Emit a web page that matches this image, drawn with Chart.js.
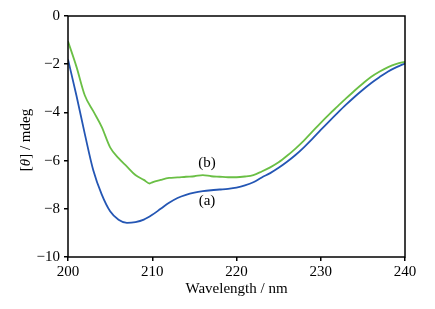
<!DOCTYPE html>
<html><head><meta charset="utf-8">
<script src="https://cdn.jsdelivr.net/npm/chart.js@4/dist/chart.umd.min.js"></script>
<style>html,body{margin:0;padding:0;background:#fff}#w{width:435px;height:309px}</style>
</head><body><div id="w"><canvas id="c" width="435" height="309"></canvas></div>
<script>
const wavelengthA = [200,201,202,203,204,205,206,207,208,209,210,211,212,213,214,215,216,217,218,219,220,221,222,223,224,225,226,227,228,229,230,231,232,233,234,235,236,237,238,239,240];
const seriesA = [-1.8,-3.3,-4.9,-6.4,-7.4,-8.1,-8.45,-8.58,-8.55,-8.45,-8.25,-8.0,-7.75,-7.55,-7.42,-7.33,-7.27,-7.23,-7.2,-7.17,-7.12,-7.03,-6.9,-6.7,-6.52,-6.3,-6.05,-5.77,-5.45,-5.1,-4.73,-4.37,-4.02,-3.68,-3.36,-3.06,-2.78,-2.53,-2.3,-2.12,-1.97];
const wavelengthB = [200,201,202,203,204,205,206,207,208,209,209.7,210,211,212,213,214,215,216,217,218,219,220,221,222,223,224,225,226,227,228,229,230,231,232,233,234,235,236,237,238,239,240];
const seriesB = [-1.05,-2.1,-3.3,-3.95,-4.6,-5.45,-5.9,-6.25,-6.6,-6.8,-6.95,-6.9,-6.8,-6.72,-6.7,-6.67,-6.65,-6.6,-6.65,-6.67,-6.69,-6.69,-6.66,-6.6,-6.45,-6.28,-6.07,-5.8,-5.5,-5.17,-4.8,-4.43,-4.08,-3.75,-3.42,-3.1,-2.8,-2.52,-2.3,-2.12,-1.99,-1.9];
const xTicks = [200,210,220,230,240];
const yTicks = [0,-2,-4,-6,-8,-10];
const curveLabels = [{text:'(a)', x:216.5, y:-7.68},{text:'(b)', x:216.5, y:-6.1}];

const FONT = '"Liberation Serif", "Times New Roman", serif';

const framePlugin = {
  id:'frame',
  afterDatasetsDraw(chart){
    const {ctx, chartArea:a, scales} = chart;
    ctx.save();
    ctx.strokeStyle = '#000'; ctx.lineWidth = 1.5;
    ctx.strokeRect(a.left, a.top, a.right-a.left, a.bottom-a.top);
    ctx.fillStyle = '#000';
    ctx.font = '15px ' + FONT;
    ctx.textAlign = 'center'; ctx.textBaseline = 'middle';
    curveLabels.forEach(l => {
      ctx.fillText(l.text, scales.x.getPixelForValue(l.x), scales.y.getPixelForValue(l.y));
    });
    // y axis title with italic theta
    ctx.translate(26, 140);
    ctx.rotate(-Math.PI/2);
    const parts = [['[', '15px '+FONT], ['θ', 'italic 15px '+FONT], ['] / mdeg', '15px '+FONT]];
    let total = 0;
    parts.forEach(p => { ctx.font = p[1]; total += ctx.measureText(p[0]).width; });
    let xx = -total/2;
    ctx.textAlign = 'left';
    parts.forEach(p => { ctx.font = p[1]; ctx.fillText(p[0], xx, 0); xx += ctx.measureText(p[0]).width; });
    ctx.restore();
  }
};

const toPts = (xs, ys) => xs.map((x,i) => ({x, y: ys[i]}));

new Chart(document.getElementById('c'), {
  type:'line',
  data:{ datasets:[
    {label:'(a)', data: toPts(wavelengthA, seriesA), borderColor:'#2456b4', borderWidth:1.8, pointRadius:0, cubicInterpolationMode:'monotone', fill:false},
    {label:'(b)', data: toPts(wavelengthB, seriesB), borderColor:'#6abf45', borderWidth:1.8, pointRadius:0, cubicInterpolationMode:'monotone', fill:false}
  ]},
  options:{
    responsive:false, animation:false, devicePixelRatio:1,
    layout:{padding:{left:0, top:16, right:30, bottom:11}},
    plugins:{legend:{display:false}, tooltip:{enabled:false}},
    scales:{
      x:{type:'linear', min:200, max:240,
        afterBuildTicks: s => { s.ticks = xTicks.map(v => ({value:v})); },
        afterFit: s => { s.height = 41; },
        grid:{drawOnChartArea:false, tickLength:4, color:'#000', lineWidth:1.5},
        border:{display:false},
        ticks:{color:'#000', font:{family:FONT, size:15}, padding:2, maxRotation:0},
        title:{display:true, text:'Wavelength / nm', color:'#000', font:{family:FONT, size:15}, padding:{top:0, bottom:0}}
      },
      y:{type:'linear', min:-10, max:0,
        afterBuildTicks: s => { s.ticks = yTicks.map(v => ({value:v})); },
        afterFit: s => { s.width = 68; },
        grid:{drawOnChartArea:false, tickLength:4, color:'#000', lineWidth:1.5},
        border:{display:false},
        ticks:{color:'#000', font:{family:FONT, size:15}, padding:4, callback: v => String(v).replace('-', '\u2212')}
      }
    }
  },
  plugins:[framePlugin]
});
</script></body></html>
